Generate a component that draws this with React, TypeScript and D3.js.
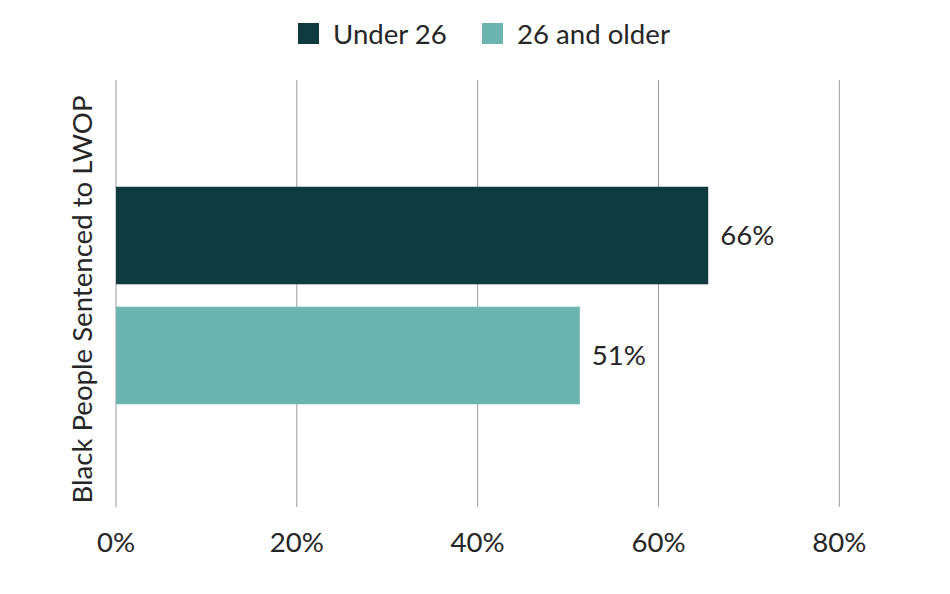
import React, { useEffect } from "react";
import * as d3 from "d3";

const categories = ["Black People Sentenced to LWOP"];
const seriesNames = ["Under 26", "26 and older"];
const seriesValues = [65.5, 51.3];
const xTicks = [0, 20, 40, 60, 80];
const colors = ["#0f3a40", "#6cb4af"];

const W = 950;
const H = 594;
const FONT = "Lato, 'Noto Sans', sans-serif";
const FS = 27.6;

export default function App() {
  useEffect(() => {
    document.body.style.margin = "0";
  }, []);

  const left = 116;
  const right = 839.3;
  const top = 80;
  const bottom = 507;

  const x = d3.scaleLinear().domain([0, 80]).range([left, right]);
  const y = d3
    .scaleBand<string>()
    .domain(seriesNames)
    .range([85, 506])
    .paddingInner(0.187)
    .paddingOuter(0.848);

  const legendItems = seriesNames.map((n, i) => ({ n, i }));
  const legendX = [298, 482];

  return (
    <div style={{ position: "absolute", left: 0, top: 0 }}>
      <svg width={W} height={H} style={{ display: "block", background: "#fff" }} fontFamily={FONT}>
        {xTicks.map((t) => (
          <line
            key={t}
            x1={x(t)}
            x2={x(t)}
            y1={top}
            y2={bottom}
            stroke="#9a9a9a"
            strokeWidth={1}
          />
        ))}
        {seriesNames.map((s, i) => (
          <g key={s}>
            <rect
              x={x(0)}
              y={y(s)}
              width={x(seriesValues[i]) - x(0)}
              height={y.bandwidth()}
              fill={colors[i]}
            />
            <text
              x={x(seriesValues[i]) + 12}
              y={(y(s) as number) + y.bandwidth() / 2}
              dy="0.35em"
              fontSize={FS}
              fill="#262626"
            >
              {Math.round(seriesValues[i])}%
            </text>
          </g>
        ))}
        {xTicks.map((t) => (
          <text
            key={"l" + t}
            x={x(t)}
            y={552}
            textAnchor="middle"
            fontSize={FS}
            fill="#262626"
          >
            {t}%
          </text>
        ))}
        <text
          transform={`translate(92, ${(top + bottom) / 2 + 6}) rotate(-90)`}
          textAnchor="middle"
          fontSize={FS}
          fill="#262626"
        >
          {categories[0]}
        </text>
        {legendItems.map(({ n, i }) => (
          <g key={n} transform={`translate(${legendX[i]}, 23)`}>
            <rect width={21} height={21} fill={colors[i]} />
            <text x={35} y={20.5} fontSize={FS} fill="#262626">
              {n}
            </text>
          </g>
        ))}
      </svg>
    </div>
  );
}
